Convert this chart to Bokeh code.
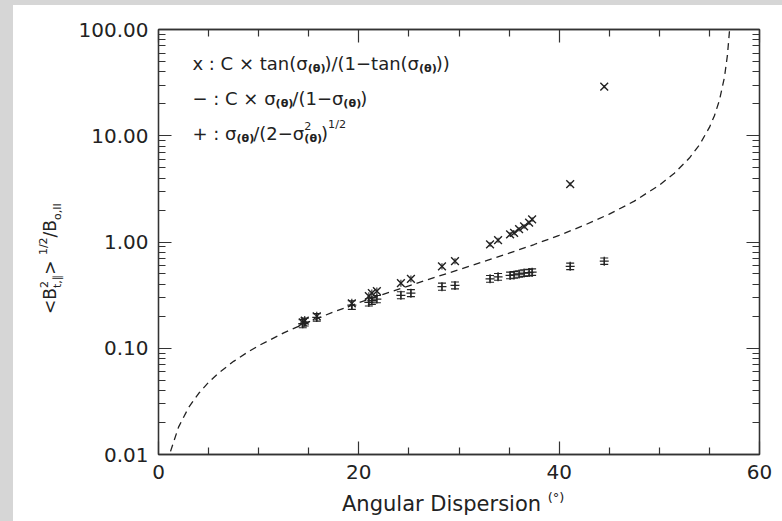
from bokeh.plotting import figure
from bokeh.models import (Range1d, FixedTicker, PrintfTickFormatter, CustomJSTickFormatter,
                          LogAxis, LinearAxis, Label, Whisker, ColumnDataSource, TeeHead, Div)
from bokeh.layouts import column, row
from bokeh.embed import file_html
from bokeh.resources import INLINE

# ---------------- data ----------------
disp = [14.4, 14.6, 15.8, 19.3, 21.0, 21.3, 21.8, 24.2, 25.2, 28.3, 29.6,
        33.1, 33.9, 35.1, 35.5, 36.0, 36.5, 37.0, 37.3, 41.1, 44.5]

tan_ratio = [0.175, 0.182, 0.200, 0.265, 0.310, 0.330, 0.345, 0.410, 0.450, 0.590, 0.660,
             0.950, 1.040, 1.180, 1.220, 1.320, 1.400, 1.520, 1.630, 3.50, 29.0]
tan_lo = [0.158, 0.164, 0.182, 0.234, 0.285, 0.303, 0.317, 0.380, 0.418, 0.552, 0.618,
          0.900, 0.985, 1.120, 1.158, 1.255, 1.330, 1.445, 1.550, 3.35, 28.0]
tan_hi = [0.194, 0.201, 0.220, 0.292, 0.337, 0.358, 0.374, 0.442, 0.484, 0.630, 0.704,
          1.000, 1.095, 1.240, 1.282, 1.386, 1.470, 1.595, 1.710, 3.65, 30.0]

sqrt_ratio = [0.170, 0.176, 0.195, 0.255, 0.270, 0.280, 0.290, 0.315, 0.330, 0.380, 0.390,
              0.450, 0.470, 0.485, 0.490, 0.500, 0.510, 0.515, 0.520, 0.590, 0.660]
sqrt_lo = [0.156, 0.162, 0.180, 0.232, 0.250, 0.259, 0.268, 0.292, 0.306, 0.352, 0.362,
           0.418, 0.437, 0.451, 0.456, 0.466, 0.475, 0.480, 0.485, 0.550, 0.616]
sqrt_hi = [0.186, 0.192, 0.212, 0.280, 0.292, 0.303, 0.314, 0.340, 0.356, 0.410, 0.420,
           0.484, 0.505, 0.521, 0.526, 0.537, 0.548, 0.553, 0.558, 0.633, 0.707]

curve_x = [1.2, 2, 3, 4, 5, 6, 7.5, 9, 10, 12.5, 15, 17.5, 20, 22.5, 25, 27.5, 30, 32.5,
           35, 37.5, 40, 42.5, 45, 47.5, 50, 51.5, 53, 54, 55, 55.5, 56, 56.5, 56.8, 57.0]
curve_y = [0.0107, 0.0181, 0.0276, 0.0375, 0.0478, 0.0585, 0.0753, 0.0932, 0.1057, 0.1395,
           0.1773, 0.2199, 0.2681, 0.3233, 0.387, 0.4615, 0.5495, 0.655, 0.785, 0.947,
           1.156, 1.436, 1.830, 2.424, 3.43, 4.44, 6.17, 8.19, 11.98, 15.45, 21.6, 35.5,
           57.3, 96.4]

x_major = [0, 20, 40, 60]
x_minor = [5, 10, 15, 25, 30, 35, 45, 50, 55]
y_major = [0.01, 0.1, 1, 10, 100]
y_minor = [k * 10.0 ** e for e in (-2, -1, 0, 1) for k in range(2, 10)]

legend_lines = [
    [("x : C × tan(σ", 1, 0), ("(θ)", .62, -.28, "bold"), (")/(1−tan(σ", 1, 0),
     ("(θ)", .62, -.28, "bold"), ("))", 1, 0)],
    [("− : C × σ", 1, 0), ("(θ)", .62, -.28, "bold"), ("/(1−σ", 1, 0),
     ("(θ)", .62, -.28, "bold"), (")", 1, 0)],
    [("+ : σ", 1, 0), ("(θ)", .62, -.28, "bold"), ("/(2−σ", 1, 0),
     [("2", .62, .45), ("(θ)", .62, -.28, "bold")], (")", 1, 0), ("1/2", .62, .5)],
]
legend_y = [48.3, 22.6, 10.4]

FONT = "DejaVu Sans"
TXT = "#222222"
INK = "#222222"

p = figure(width=709, height=485, x_range=Range1d(0, 60), y_range=Range1d(0.01, 100),
           y_axis_type="log", output_backend="svg", toolbar_location=None,
           min_border_left=85, min_border_right=23, min_border_top=24, min_border_bottom=36,
           background_fill_color="white", border_fill_color="white")
p.margin = 0
p.xgrid.visible = False
p.ygrid.visible = False
p.outline_line_color = "#333333"
p.outline_line_width = 1.3

bottom = p.xaxis[0]
left = p.yaxis[0]
bottom.ticker = FixedTicker(ticks=x_major, minor_ticks=x_minor)
left.ticker = FixedTicker(ticks=y_major, minor_ticks=y_minor)
left.formatter = PrintfTickFormatter(format="%.2f")

top = LinearAxis(ticker=FixedTicker(ticks=x_major, minor_ticks=x_minor),
                 formatter=CustomJSTickFormatter(code="return ''"))
right = LogAxis(ticker=FixedTicker(ticks=y_major, minor_ticks=y_minor),
                formatter=CustomJSTickFormatter(code="return ''"))
p.add_layout(top, "above")
p.add_layout(right, "right")

for ax in [bottom, left, top, right]:
    ax.axis_line_color = "#333333"
    ax.axis_line_width = 1.3
    ax.major_tick_line_color = "#333333"
    ax.minor_tick_line_color = "#333333"
    ax.major_tick_line_width = 1.2
    ax.minor_tick_line_width = 1.2
    ax.major_tick_in = 13
    ax.major_tick_out = 0
    ax.minor_tick_in = 7
    ax.minor_tick_out = 0
    ax.major_label_text_font = FONT
    ax.major_label_text_font_size = "20px"
    ax.major_label_text_color = TXT
    ax.major_label_standoff = 10
top.major_label_standoff = 0
right.major_label_standoff = 0

# dashed model curve
p.line(curve_x, curve_y, line_dash="7 5", line_color=INK, line_width=1.3)

src = ColumnDataSource(dict(x=disp, t=tan_ratio, tlo=tan_lo, thi=tan_hi,
                            s=sqrt_ratio, slo=sqrt_lo, shi=sqrt_hi))
p.add_layout(Whisker(source=src, base="x", lower="tlo", upper="thi", dimension="height",
                     line_color=INK, line_width=1.1,
                     upper_head=None, lower_head=None))
p.add_layout(Whisker(source=src, base="x", lower="slo", upper="shi", dimension="height",
                     line_color=INK, line_width=1.1,
                     upper_head=TeeHead(size=8, line_color=INK, line_width=1.1),
                     lower_head=TeeHead(size=8, line_color=INK, line_width=1.1)))
p.scatter("x", "t", source=src, marker="x", size=11, line_color=INK, line_width=1.4)
p.scatter("x", "s", source=src, marker="cross", size=9, line_color=INK, line_width=1.3)

# ---------------- legend texts (composed) ----------------
W = {' ': .318, 'x': .592, ':': .337, 'C': .698, '×': .838, 't': .392, 'a': .613, 'n': .634,
     '(': .390, ')': .390, 'σ': .634, 'θ': .612, '/': .337, '1': .636, '2': .636, '−': .838,
     '+': .838}


def tw(s, size, bold=False):
    return sum(W.get(c, .6) for c in s) * size * (1.08 if bold else 1.0)


def place(segs, x, y, base):
    cur = 0.0
    for item in segs:
        group = item if isinstance(item, list) else [item]
        adv = 0.0
        for seg in group:
            t, sc, dy = seg[0], seg[1], seg[2]
            style = seg[3] if len(seg) > 3 else "normal"
            size = base * sc
            p.add_layout(Label(x=x, y=y, x_offset=cur, y_offset=dy * base, text=t,
                               text_font=FONT, text_font_size=f"{size:.1f}px",
                               text_font_style=style, text_color=TXT,
                               text_baseline="alphabetic", text_align="left"))
            adv = max(adv, tw(t, size, style == "bold"))
        cur += adv


for segs, yy in zip(legend_lines, legend_y):
    place(segs, 3.39, yy, 18)

# ---------------- axis titles as HTML (sub/superscripts) ----------------
SUP = "font-size:11px;position:relative;"
ytitle = (
    '<div style="position:relative;width:60px;height:516px;">'
    '<div style="position:absolute;left:27px;top:309px;transform:rotate(-90deg);'
    'transform-origin:0 0;white-space:nowrap;font-family:\'DejaVu Sans\';font-size:17px;'
    'line-height:20px;color:#222;">'
    '&lt;B<span style="' + SUP + 'top:-8px;">2</span>'
    '<span style="' + SUP + 'top:5px;margin-left:-7px;">t,∥</span>&gt; '
    '<span style="' + SUP + 'top:-9px;">1/2</span>/B'
    '<span style="' + SUP + 'top:5px;">o,II</span></div></div>'
)
xtitle = (
    '<div style="position:relative;width:709px;height:31px;">'
    '<div style="position:absolute;left:269px;top:3px;white-space:nowrap;'
    'font-family:\'DejaVu Sans\';font-size:21px;line-height:22px;color:#222;">'
    'Angular Dispersion <span style="font-size:13px;position:relative;top:-9px;">(°)</span>'
    '</div></div>'
)
ydiv = Div(text=ytitle, width=60, height=516, margin=0, styles={"background-color": "white"})
xdiv = Div(text=xtitle, width=709, height=31, margin=0, styles={"background-color": "white"})

inner = row(ydiv, column(p, xdiv, styles={"background-color": "white"}),
            styles={"background-color": "white"}, margin=(5, 0, 0, 13))
layout = column(inner, styles={"background-color": "#d6d6d6"}, width=782, height=521)

open("out.html", "w").write(file_html(layout, INLINE))
